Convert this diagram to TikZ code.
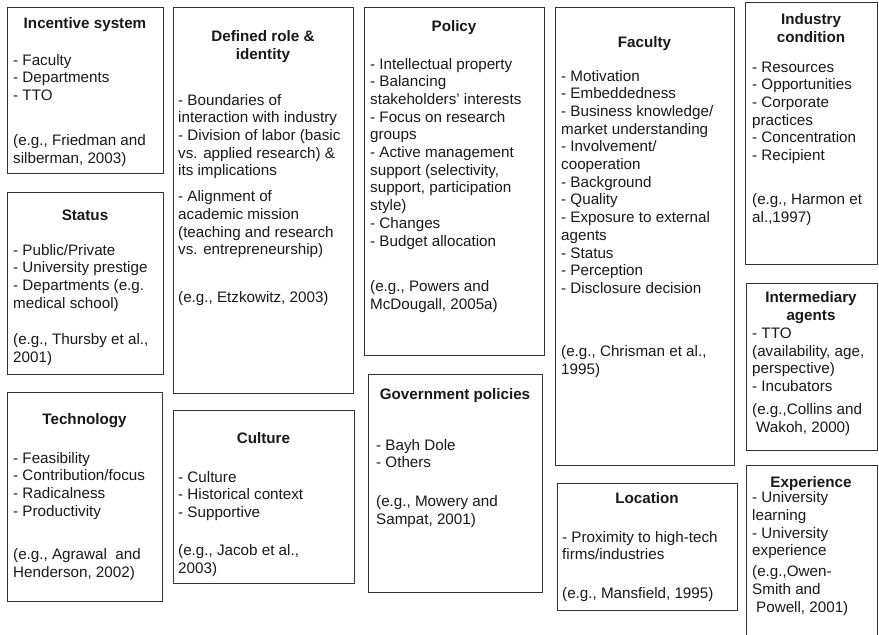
\documentclass[tikz,border=0pt]{standalone}
\usepackage{fontspec}
\setmainfont{Liberation Sans}
\newcommand{\bx}[5]{\node[box, anchor=north west, minimum width=#4pt, minimum height=#5pt] (#1) at (#2,#3) {};}
\begin{document}
\begin{tikzpicture}[x=1pt,y=-1pt,
  box/.style={draw=black!80, line width=0.9pt, rectangle, inner sep=0pt},
  head/.style={font=\fontsize{15.2}{17.7}\selectfont\bfseries, align=center, inner sep=0pt, text=black!90, anchor=base},
  body/.style={font=\fontsize{15.2}{17.7}\selectfont, align=left, inner sep=0pt, text=black!90, anchor=base west}]
\fill[white] (0,0) rectangle (879,635);
\useasboundingbox (0,0) rectangle (879,635);
% (multi-line nodes are anchored at the baseline of their last line)
% column 1
\bx{inc}{7}{7}{156}{166}
\node[head] (inc-h) at (85,28) {Incentive system};
\node[body] (inc-t) at (13,163) {- Faculty\\- Departments\\- TTO\\[27.2pt](e.g., Friedman and\\silberman, 2003)};
\bx{sta}{7}{192}{156}{182}
\node[head] (sta-h) at (85,220) {Status};
\node[body] (sta-t) at (13,362) {- Public/Private\\- University prestige\\- Departments (e.g.\\medical school)\\[18.5pt](e.g., Thursby et al.,\\2001)};
\bx{tec}{7}{392}{155}{209}
\node[head] (tec-h) at (84.5,424) {Technology};
\node[body] (tec-t) at (13,577) {- Feasibility\\- Contribution/focus\\- Radicalness\\- Productivity\\[25.5pt](e.g., Agrawal\ \ and\\Henderson, 2002)};
% column 2
\bx{rol}{173}{7}{180}{386}
\node[head] (rol-h) at (263,59) {Defined role \&\\identity};
\node[body] (rol-t) at (178,302) {- Boundaries of\\interaction with industry\\- Division of labor (basic\\vs. applied research) \&\\its implications\\[8.3pt]- Alignment of\\academic mission\\(teaching and research\\vs. entrepreneurship)\\[29.4pt](e.g., Etzkowitz, 2003)};
\bx{cul}{173}{410}{181}{173}
\node[head] (cul-h) at (263.5,443) {Culture};
\node[body] (cul-t) at (178,573) {- Culture\\- Historical context\\- Supportive\\[20.2pt](e.g., Jacob et al.,\\2003)};
% column 3
\bx{pol}{364}{7}{180}{348}
\node[head] (pol-h) at (454,31) {Policy};
\node[body] (pol-t) at (370,309) {- Intellectual property\\- Balancing\\stakeholders' interests\\- Focus on research\\groups\\- Active management\\support (selectivity,\\support, participation\\style)\\- Changes\\- Budget allocation\\[27.6pt](e.g., Powers and\\McDougall, 2005a)};
\bx{gov}{368}{374}{174}{218}
\node[head] (gov-h) at (455,399) {Government policies};
\node[body] (gov-t) at (376,524) {- Bayh Dole\\- Others\\[20.9pt](e.g., Mowery and\\Sampat, 2001)};
% column 4
\bx{fac}{555}{7}{179}{458}
\node[head] (fac-h) at (644.5,47) {Faculty};
\node[body] (fac-t) at (561,374) {- Motivation\\- Embeddedness\\- Business knowledge/\\market understanding\\- Involvement/\\cooperation\\- Background\\- Quality\\- Exposure to external\\agents\\- Status\\- Perception\\- Disclosure decision\\[45.2pt](e.g., Chrisman et al.,\\1995)};
\bx{loc}{557}{483}{180}{127}
\node[head] (loc-h) at (647,503) {Location};
\node[body] (loc-t) at (562,598) {- Proximity to high-tech\\firms/industries\\[20.6pt](e.g., Mansfield, 1995)};
% column 5
\bx{ind}{745}{2}{132}{262}
\node[head] (ind-h) at (811,42) {Industry\\condition};
\node[body] (ind-t) at (752,222) {- Resources\\- Opportunities\\- Corporate\\practices\\- Concentration\\- Recipient\\[26.1pt](e.g., Harmon et\\al.,1997)};
\bx{int}{746}{283}{131}{167}
\node[head] (int-h) at (811,320) {Intermediary\\agents};
\node[body] (int-t) at (752,432) {- TTO\\(availability, age,\\perspective)\\- Incubators\\[5pt](e.g.,Collins and\\\kern4pt Wakoh, 2000)};
\bx{exp}{746}{465}{131}{180}
\node[head] (exp-h) at (811,487) {Experience};
\node[body] (exp-t) at (752,612) {- University\\learning\\- University\\experience\\[3pt](e.g.,Owen-\\Smith and\\\kern4pt Powell, 2001)};
\end{tikzpicture}
\end{document}
